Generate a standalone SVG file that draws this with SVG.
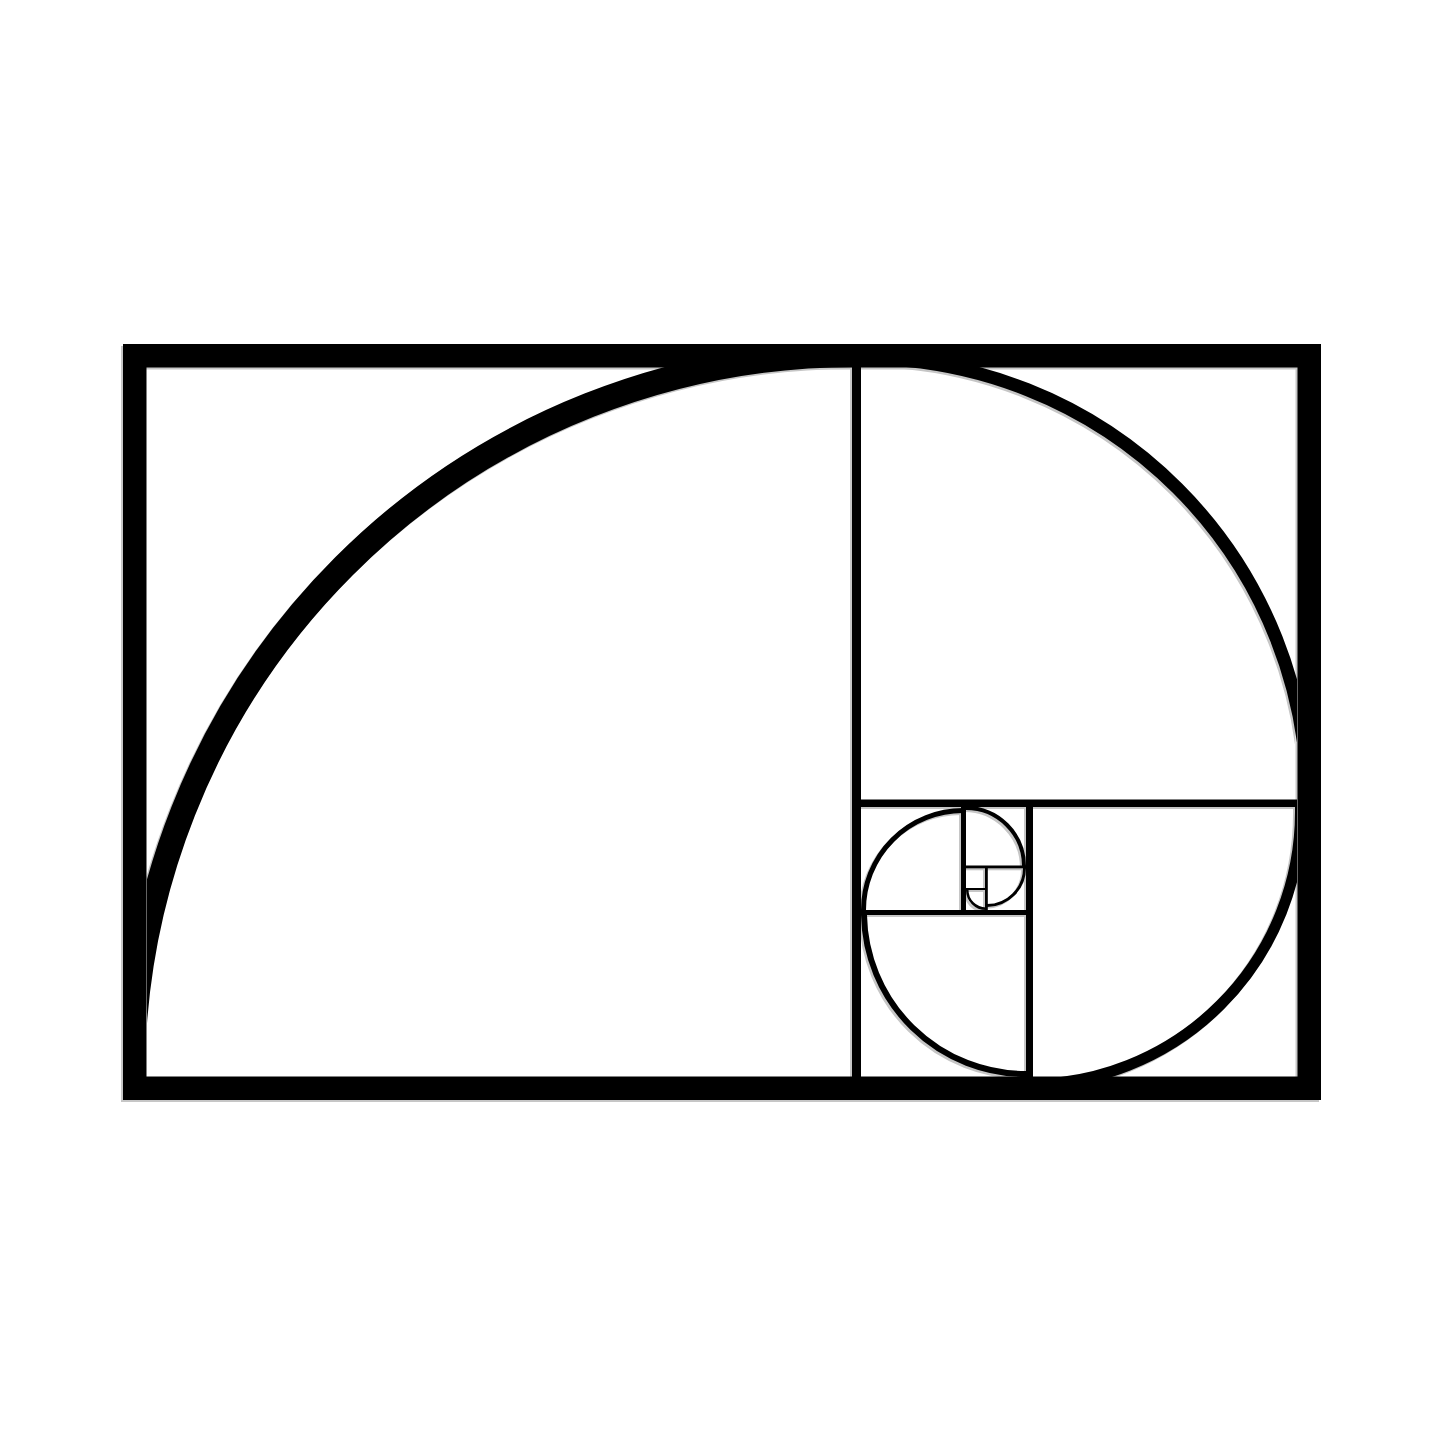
<svg xmlns="http://www.w3.org/2000/svg" xmlns:xlink="http://www.w3.org/1999/xlink" width="1445" height="1445" viewBox="0 0 1445 1445">
  <style>
    .f{fill:currentColor;stroke:none}
    .b{fill:none;stroke:currentColor;stroke-width:23.5}
    .s{fill:none;stroke:currentColor;stroke-linecap:butt}
  </style>
  <defs>
    <clipPath id="inner">
      <rect x="147" y="367" width="1150" height="710"/>
    </clipPath>
    <g id="art">
      <g id="frame">
        <rect class="b" x="134.75" y="355.75" width="1174.5" height="732.5"/>
      </g>
      <g id="divisions">
        <rect class="f" x="852" y="367" width="9" height="710"/>
        <rect class="f" x="861" y="799.5" width="436" height="7.5"/>
        <rect class="f" x="1026" y="807" width="7" height="270"/>
        <rect class="f" x="861" y="910" width="165" height="5"/>
        <rect class="f" x="961" y="807" width="5" height="103"/>
        <rect class="f" x="966" y="865.5" width="60" height="2.8"/>
        <rect class="f" x="985" y="868" width="2.8" height="42"/>
        <rect class="f" x="966" y="888" width="19" height="2"/>
      </g>
      <g id="spiral" clip-path="url(#inner)">
        <path class="s" stroke-width="25" d="M 132.5 1080 L 132.5 1077 A 722.5 722.5 0 0 1 855 354.5 L 860 354.5"/>
        <path class="s" stroke-width="13" d="M 858 358.5 L 864 358.5 A 443.5 443.5 0 0 1 1307.5 802 L 1307.5 806"/>
        <path class="s" stroke-width="11" d="M 1300.5 804 L 1300.5 812 A 272.5 272.5 0 0 1 1028 1084.5 L 1024 1084.5"/>
        <path class="s" stroke-width="6" d="M 1030 1074 L 1026 1074 A 162 162 0 0 1 864 915 L 864 912"/>
        <path class="s" stroke-width="5" d="M 863.5 912 L 863.5 910 A 99.5 99.5 0 0 1 963 810.5 L 965 810.5"/>
        <path class="s" stroke-width="4" d="M 965 808 L 966 808 A 58 58 0 0 1 1024 866 L 1024 867"/>
        <path class="s" stroke-width="3" d="M 1024.5 867 L 1024.5 868 A 37.5 37.5 0 0 1 987 905.5 L 986 905.5"/>
        <path class="s" stroke-width="2.5" d="M 987 908.75 L 986 908.75 A 18.75 18.75 0 0 1 967.25 890 L 967.25 889"/>
      </g>
    </g>
  </defs>
  <rect width="1445" height="1445" fill="#ffffff"/>
  <use xlink:href="#art" href="#art" transform="translate(-2,2)" style="color:#c6c6c6"/>
  <use xlink:href="#art" href="#art" style="color:#000000"/>
</svg>
